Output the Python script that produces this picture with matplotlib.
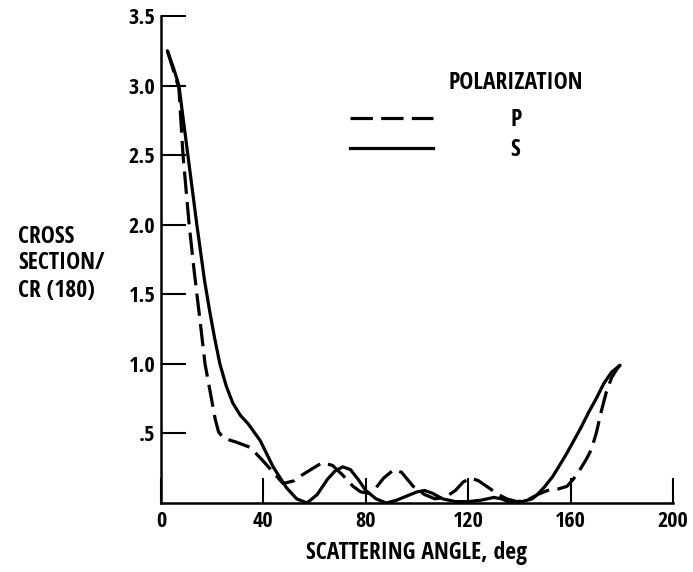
import matplotlib
matplotlib.use("Agg")
import matplotlib.pyplot as plt
from matplotlib import font_manager
from matplotlib.lines import Line2D

# ---- data ----
s_angle = [2.5, 5, 7, 10.5, 14, 17, 19, 21, 23, 25.5, 28, 31, 34, 38.7, 43.8, 49, 53, 57,
           61, 65, 68, 71, 74, 77, 80, 84, 88, 92, 96, 100, 103, 106, 110, 115, 120,
           125, 130, 133, 137, 141, 145, 147, 150, 153, 156, 158.6, 161, 164, 167,
           170, 173, 176, 179.3]
s_value = [3.25, 3.12, 3.0, 2.5, 2.0, 1.6, 1.38, 1.18, 1.0, 0.84, 0.72, 0.63, 0.57, 0.45, 0.26,
           0.11, 0.03, 0.0, 0.06, 0.17, 0.23, 0.26, 0.24, 0.17, 0.09, 0.03, 0.0, 0.02,
           0.05, 0.08, 0.09, 0.07, 0.03, 0.01, 0.01, 0.02, 0.04, 0.03, 0.0, 0.01, 0.03,
           0.06, 0.12, 0.19, 0.28, 0.36, 0.44, 0.54, 0.65, 0.75, 0.86, 0.94, 0.99]

p_angle = [2.5, 5, 7, 8.6, 11, 13, 15, 17.2, 20, 21.2, 22.5, 24.5, 29, 34.8, 39.5, 45.3, 47.7,
           52, 55, 59.4, 63, 67, 71, 75, 78, 81, 84, 87, 91, 94, 98.5, 103, 107, 111,
           115, 118, 121, 124, 128, 131, 135, 139, 143, 147, 151, 155, 158.6, 161, 163,
           166, 168, 170, 172, 174, 176, 178, 179.3]
p_value = [3.25, 3.1, 2.98, 2.5, 2.0, 1.66, 1.35, 1.0, 0.72, 0.6, 0.51, 0.465, 0.44, 0.40, 0.31,
           0.19, 0.14, 0.16, 0.20, 0.25, 0.29, 0.27, 0.20, 0.12, 0.08, 0.07, 0.11, 0.18,
           0.24, 0.22, 0.12, 0.06, 0.03, 0.04, 0.09, 0.15, 0.18, 0.16, 0.11, 0.07, 0.03,
           0.01, 0.02, 0.06, 0.09, 0.10, 0.12, 0.17, 0.22, 0.31, 0.38, 0.50, 0.66, 0.80,
           0.90, 0.96, 0.99]

x_ticks = [0, 40, 80, 120, 160, 200]
y_ticks = [0.5, 1.0, 1.5, 2.0, 2.5, 3.0, 3.5]
y_ticklabels = [".5", "1.0", "1.5", "2.0", "2.5", "3.0", "3.5"]

# ---- font ----
names = {f.name for f in font_manager.fontManager.ttflist}
fam = "DejaVu Sans"
for cand in ("Liberation Sans Narrow", "DejaVu Sans Condensed", "Open Sans Condensed"):
    if cand in names:
        fam = cand
        break
plt.rcParams["font.family"] = [fam, "DejaVu Sans"]
plt.rcParams["font.weight"] = "bold"
FS = 17
FT = 16

W, H = 693, 572
fig = plt.figure(figsize=(W / 100, H / 100), dpi=100)
ax = fig.add_axes([161 / W, (H - 503) / H, 512 / W, 487 / H])

lw = 2.3
dash = (7, 2.6)
ax.plot(s_angle, s_value, color="black", lw=lw, solid_capstyle="round", solid_joinstyle="round")
ax.plot(p_angle, p_value, color="black", lw=lw, linestyle=(0, dash), dash_capstyle="butt",
        dash_joinstyle="round")

ax.set_xlim(0, 200)
ax.set_ylim(0, 3.5)
for side in ("top", "right"):
    ax.spines[side].set_visible(False)
for side in ("left", "bottom"):
    ax.spines[side].set_linewidth(1.8)

ax.set_xticks(x_ticks)
ax.set_xticklabels([str(v) for v in x_ticks])
ax.set_yticks(y_ticks)
ax.set_yticklabels(y_ticklabels)
ax.tick_params(axis="both", direction="in", length=18, width=1.5, labelsize=FT, pad=4)
ax.tick_params(axis="x", pad=6)

ax.set_xlabel("SCATTERING ANGLE, deg", fontsize=FS, fontweight="bold", labelpad=6)

fig.text(18 / W, 1 - 237 / H, "CROSS", fontsize=FS, fontweight="bold", va="center", ha="left")
fig.text(18 / W, 1 - 263 / H, "SECTION/", fontsize=FS, fontweight="bold", va="center", ha="left")
fig.text(18 / W, 1 - 291 / H, "CR (180)", fontsize=FS, fontweight="bold", va="center", ha="left")

# legend
fig.text(516 / W, 1 - 83 / H, "POLARIZATION", fontsize=FS, fontweight="bold", ha="center", va="center")
handles = [Line2D([], [], color="black", lw=lw, linestyle=(0, dash)),
           Line2D([], [], color="black", lw=lw)]
leg = ax.legend(handles, ["P", "S"], loc="upper left",
                bbox_to_anchor=(350 / W, 1 - 108 / H), bbox_transform=fig.transFigure,
                frameon=False, fontsize=FS, handlelength=3.5, handletextpad=3.3,
                labelspacing=0.25, borderpad=0, borderaxespad=0)

fig.savefig("out.png", dpi=100)
